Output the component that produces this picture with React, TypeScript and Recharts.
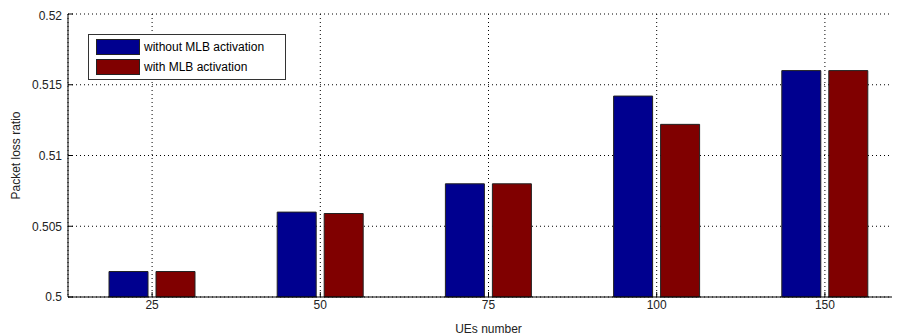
import { BarChart, Bar, XAxis, YAxis, CartesianGrid } from "recharts"

// ── Data ───────────────────────────────────────────────────────
const ueNumbers = ["25", "50", "75", "100", "150"]
const withoutMlb = [0.5018, 0.506, 0.508, 0.5142, 0.516]
const withMlb = [0.5018, 0.5059, 0.508, 0.5122, 0.516]
const yTicks = [0.5, 0.505, 0.51, 0.515, 0.52]

const COLOURS = {
  without: "#00008F",
  with: "#800000",
  text: "#222",
}

const FONT = "'Liberation Sans', Arial, sans-serif"

const data = ueNumbers.map((ue, i) => ({
  ue,
  without: withoutMlb[i],
  with: withMlb[i],
}))

// MATLAB-style boxed legend, laid over the plot area
function MatlabLegend() {
  const items = [
    { label: "without MLB activation", color: COLOURS.without },
    { label: "with MLB activation", color: COLOURS.with },
  ]
  return (
    <div
      style={{
        position: "absolute",
        left: 80,
        top: 26,
        border: "1px solid #333",
        background: "#fff",
        width: 189,
        padding: "2px 0 2px 7px",
        fontFamily: FONT,
        fontSize: 12,
        color: "#000",
      }}
    >
      {items.map((it) => (
        <div key={it.label} style={{ display: "flex", alignItems: "center", height: 20 }}>
          <span
            style={{
              display: "inline-block",
              width: 42,
              height: 14,
              background: it.color,
              border: "1px solid #222",
              marginRight: 4,
            }}
          />
          <span>{it.label}</span>
        </div>
      ))}
    </div>
  )
}

function YLabel({ viewBox }: { viewBox?: { x: number; y: number; width: number; height: number } }) {
  if (!viewBox) return null
  const cx = viewBox.x + 8
  const cy = viewBox.y + viewBox.height / 2
  return (
    <text
      x={cx}
      y={cy}
      transform={`rotate(-90 ${cx} ${cy})`}
      textAnchor="middle"
      dominantBaseline="central"
      fontSize={12}
      fontFamily={FONT}
      fill={COLOURS.text}
    >
      Packet loss ratio
    </text>
  )
}

const NoLabel = () => <g />

// plot runs past the right edge of the figure, as in the original
export default function App() {
  const tickStyle = { fontSize: 12, fontFamily: FONT, fill: COLOURS.text }
  return (
    <div style={{ position: "relative", width: 892, height: 327, overflow: "hidden" }}>
      <BarChart
        width={904}
        height={327}
        data={data}
        margin={{ top: 6, right: 0, left: 0, bottom: 0 }}
        barSize={39}
        barGap={8}
      >
        <CartesianGrid stroke="#000" strokeDasharray="1 3" />
        <XAxis
          dataKey="ue"
          height={38}
          tickSize={-5}
          tickMargin={8}
          tick={tickStyle}
          stroke="#000"
          tickLine={{ stroke: "#000" }}
          label={{
            value: "UEs number",
            position: "insideBottom",
            offset: 2,
            style: { fontSize: 12, fontFamily: FONT, fill: COLOURS.text },
          }}
        />
        <XAxis
          xAxisId="top"
          dataKey="ue"
          orientation="top"
          height={0}
          tickSize={-5}
          tick={<NoLabel />}
          tickLine={{ stroke: "#000" }}
          stroke="#000"
        />
        <YAxis
          domain={[0.5, 0.52]}
          ticks={yTicks}
          width={60}
          tickSize={-5}
          tickMargin={11}
          tick={tickStyle}
          tickFormatter={(v: number) => String(Number(v.toFixed(3)))}
          stroke="#000"
          label={<YLabel />}
        />
        <YAxis
          yAxisId="right"
          orientation="right"
          domain={[0.5, 0.52]}
          ticks={yTicks}
          width={3}
          tickSize={-5}
          tick={false}
          stroke="#000"
        />
        <Bar dataKey="without" name="without MLB activation" fill={COLOURS.without} stroke="#222" strokeWidth={1} isAnimationActive={false} />
        <Bar dataKey="with" name="with MLB activation" fill={COLOURS.with} stroke="#222" strokeWidth={1} isAnimationActive={false} />
      </BarChart>
      <MatlabLegend />
    </div>
  )
}
